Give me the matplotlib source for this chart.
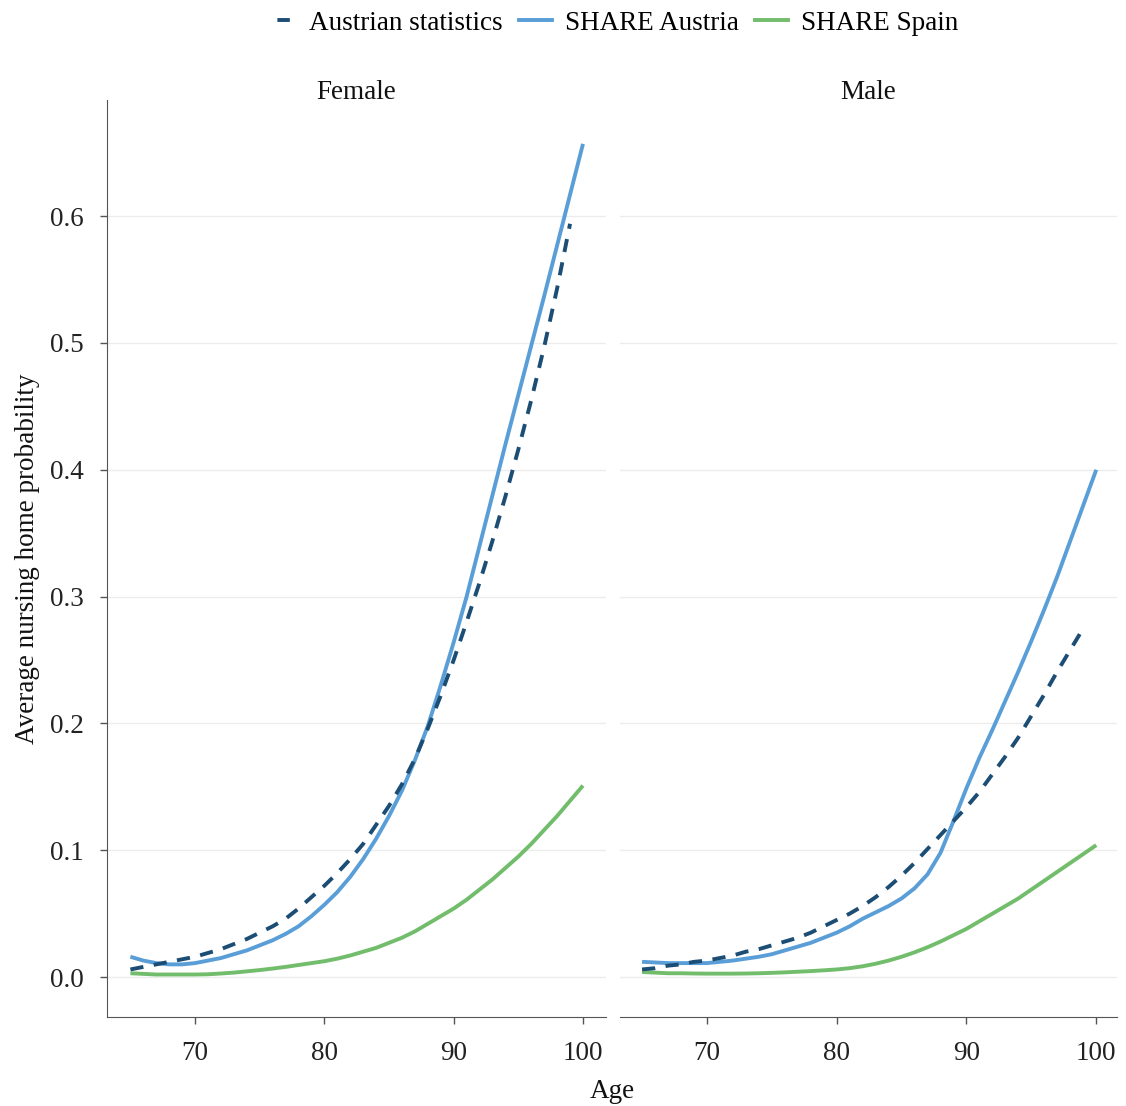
import matplotlib
matplotlib.use("Agg")
import matplotlib.pyplot as plt
from matplotlib.lines import Line2D

plt.rcParams['font.family'] = ['Liberation Serif', 'DejaVu Serif']

ages = list(range(65, 101))
ages_stat = list(range(65, 100))

female_stat = [0.006, 0.008, 0.010, 0.012, 0.014, 0.016, 0.019, 0.022, 0.026, 0.030,
               0.035, 0.040, 0.046, 0.054, 0.063, 0.072, 0.082, 0.093, 0.105, 0.120,
               0.135, 0.152, 0.172, 0.196, 0.222, 0.250, 0.280, 0.311, 0.344, 0.379,
               0.416, 0.455, 0.497, 0.543, 0.594]
female_share_at = [0.016, 0.013, 0.011, 0.010, 0.010, 0.011, 0.013, 0.015, 0.018, 0.021,
                   0.025, 0.029, 0.034, 0.040, 0.048, 0.057, 0.067, 0.079, 0.093, 0.109,
                   0.127, 0.147, 0.171, 0.198, 0.230, 0.264, 0.300, 0.340, 0.380, 0.420,
                   0.459, 0.498, 0.537, 0.577, 0.617, 0.657]
female_share_es = [0.003, 0.0025, 0.002, 0.002, 0.002, 0.002, 0.0022, 0.0028, 0.0035, 0.0045,
                   0.0055, 0.0067, 0.0080, 0.0095, 0.011, 0.0125, 0.0145, 0.017, 0.020, 0.023,
                   0.027, 0.031, 0.036, 0.042, 0.048, 0.054, 0.061, 0.069, 0.077, 0.086,
                   0.095, 0.105, 0.116, 0.127, 0.139, 0.151]

male_stat = [0.006, 0.007, 0.009, 0.010, 0.012, 0.013, 0.015, 0.017, 0.020, 0.022,
             0.025, 0.028, 0.031, 0.035, 0.040, 0.045, 0.050, 0.056, 0.063, 0.071,
             0.080, 0.090, 0.101, 0.112, 0.123, 0.134, 0.146, 0.160, 0.174, 0.189,
             0.206, 0.223, 0.241, 0.258, 0.275]
male_share_at = [0.012, 0.0115, 0.011, 0.011, 0.011, 0.011, 0.012, 0.013, 0.0145, 0.016,
                 0.018, 0.021, 0.024, 0.027, 0.031, 0.035, 0.040, 0.046, 0.051, 0.056,
                 0.062, 0.070, 0.081, 0.098, 0.123, 0.149, 0.173, 0.195, 0.218, 0.241,
                 0.265, 0.290, 0.316, 0.344, 0.372, 0.400]
male_share_es = [0.004, 0.0035, 0.003, 0.003, 0.0028, 0.0027, 0.0027, 0.0027, 0.0028, 0.003,
                 0.0033, 0.0037, 0.0042, 0.0047, 0.0053, 0.006, 0.007, 0.0085, 0.0105, 0.013,
                 0.016, 0.0195, 0.0235, 0.028, 0.033, 0.038, 0.044, 0.050, 0.056, 0.062,
                 0.069, 0.076, 0.083, 0.090, 0.097, 0.104]

panels = ["Female", "Male"]
series_labels = ["Austrian statistics", "SHARE Austria", "SHARE Spain"]
yticks = [0.0, 0.1, 0.2, 0.3, 0.4, 0.5, 0.6]
xticks = [70, 80, 90, 100]

c_stat = "#1c4d75"
c_at = "#5a9ed8"
c_es = "#72bd6b"
lw = 2.8
dash = (0, (3.4, 2.7))
FS = 19.5

fig = plt.figure(figsize=(11.26, 11.06), dpi=100)
ax1 = fig.add_axes([107/1126, 1 - 1017/1106, 499/1126, 917/1106])
ax2 = fig.add_axes([620/1126, 1 - 1017/1106, 497/1126, 917/1106], sharey=ax1)

data = {
    "Female": (female_stat, female_share_at, female_share_es),
    "Male": (male_stat, male_share_at, male_share_es),
}

for ax, name, xl in [(ax1, "Female", (63.19, 101.78)), (ax2, "Male", (63.3, 101.6))]:
    st, at, es = data[name]
    ax.plot(ages, es, color=c_es, lw=lw, solid_capstyle='butt', solid_joinstyle='round', zorder=3)
    ax.plot(ages, at, color=c_at, lw=lw, solid_capstyle='butt', solid_joinstyle='round', zorder=3)
    ax.plot(ages_stat, st, color=c_stat, lw=lw, linestyle=dash, zorder=4)
    ax.set_xlim(*xl)
    ax.set_ylim(-0.0315, 0.6916)
    ax.set_xticks(xticks)
    ax.set_yticks(yticks)
    ax.grid(axis='y', color='#ececec', lw=1.0)
    ax.set_axisbelow(True)
    for s in ['top', 'right']:
        ax.spines[s].set_visible(False)
    ax.spines['bottom'].set_color('#555555')
    ax.spines['left'].set_color('#555555')
    ax.tick_params(axis='both', colors='#555555', labelcolor='#222222',
                   labelsize=FS, length=5, width=1)
    ax.tick_params(axis='x', pad=12.5)
    ax.tick_params(axis='y', pad=12)
    ax.text(0.5, 1.008, name, transform=ax.transAxes, ha='center', va='center',
            fontsize=FS, color='#111111')

ax1.set_yticklabels([f"{v:.1f}" for v in yticks])
ax2.spines['left'].set_visible(False)
ax2.tick_params(axis='y', left=False, labelleft=False)

ax1.set_ylabel("Average nursing home probability", fontsize=FS, labelpad=7, color='#111111')
fig.text(612/1126, 1 - 1092/1106, "Age", fontsize=FS, ha='center', va='center', color='#111111')

handles = [Line2D([], [], color=c_stat, lw=lw, linestyle=(5.5, (3.2, 6.0))),
           Line2D([], [], color=c_at, lw=lw),
           Line2D([], [], color=c_es, lw=lw)]
fig.legend(handles, series_labels, loc='center', bbox_to_anchor=(611/1126, 1 - 23/1106),
           ncol=3, frameon=False, fontsize=FS, handlelength=1.2, columnspacing=0.6,
           handletextpad=0.5, borderaxespad=0, borderpad=0)

fig.savefig("out.png", dpi=100)
